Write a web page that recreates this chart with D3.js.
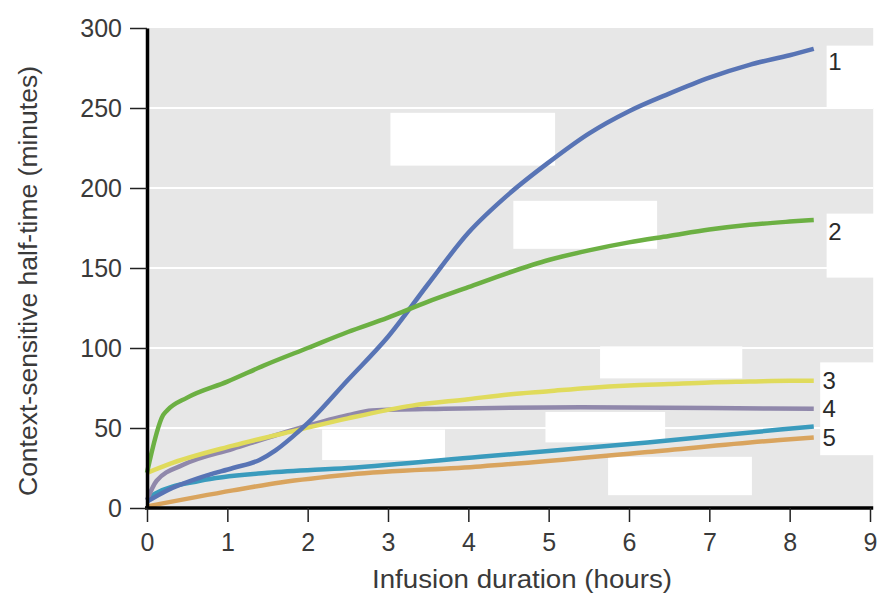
<!DOCTYPE html>
<html>
<head>
<meta charset="utf-8">
<script src="https://cdn.jsdelivr.net/npm/d3@7"></script>
<style>
  html, body { margin: 0; padding: 0; background: #ffffff; }
  svg { display: block; font-family: "Liberation Sans", Arial, Helvetica, sans-serif; }
</style>
</head>
<body>
<svg id="chart" width="890" height="604"></svg>
<script>
// ---- data (hours, minutes) ----
const xTicks = [0, 1, 2, 3, 4, 5, 6, 7, 8, 9];
const yTicks = [0, 50, 100, 150, 200, 250, 300];
const gridValues = [50, 100, 150, 200, 250];

const drug1 = [[0,4],[0.25,11],[0.66,19],[1.07,25],[1.4,30],[1.6,36],[1.8,44],[2,53],[2.5,80],[3,107],[3.5,140],[4,172],[4.5,196],[5,216],[5.5,234],[6,248],[6.5,259],[7,269],[7.5,277],[8,283],[8.3,287]];
const drug2 = [[0,22],[0.2,58],[0.25,61],[0.5,69],[1,79],[1.5,90],[2,100],[2.5,110],[3,119],[3.5,129],[4,138],[4.5,147],[5,155],[5.5,161],[6,166],[6.5,170],[7,174],[7.5,177],[8,179],[8.3,180]];
const drug3 = [[0,22],[0.25,27],[1.07,39],[1.9,49],[2.5,56],[3.3,64],[4,68],[4.5,71],[5,73],[5.5,75],[6,76.5],[6.5,77.5],[7,78.5],[7.5,79],[8,79.5],[8.3,79.5]];
const drug4 = [[0,5],[0.12,17],[0.45,27],[1.07,37],[1.9,50],[2.5,58],[2.8,61],[3.7,62],[5.4,63],[7,62.5],[8.3,62]];
const drug5a = [[0,5],[0.1,9],[0.66,17],[1.5,22],[2.5,25],[4.15,32],[6.23,41],[7.88,49],[8.3,51]];
const drug5b = [[0,1],[1.07,11],[1.66,16],[2.53,21],[4.15,26],[6.23,35],[7.88,42.5],[8.3,44]];

const seriesList = [drug1, drug2, drug3, drug4, drug5a, drug5b];
const seriesColors = ["#5874b5", "#6cb043", "#e0db5c", "#9088ab", "#3a9bbd", "#d9a45e"];
const seriesOrder = [5, 4, 3, 2, 0, 1];

const labelTexts = ["1", "2", "3", "4", "5"];
const labelHours = [8.48, 8.48, 8.41, 8.41, 8.41];
const labelMinutes = [279, 173, 80, 62, 44];

// white cover boxes in data units: [x0, x1, y0, y1]
const coverBoxes = [
  [3.03, 5.08, 214, 247], [4.56, 6.35, 162, 192], [5.64, 7.41, 81, 101],
  [4.96, 6.45, 41, 60], [5.74, 7.53, 8, 32], [2.18, 3.71, 30, 49],
  [8.46, 9.2, 250, 289], [8.46, 9.2, 144, 184], [8.38, 9.2, 33, 91]
];

// ---- layout ----
const svg = d3.select("#chart");
const x = d3.scaleLinear().domain([0, 9]).range([147, 870]);
const y = d3.scaleLinear().domain([0, 300]).range([508, 28]);
const textColor = "#3a3a3a";

// plot background
svg.append("rect")
  .attr("x", x(0)).attr("y", y(300))
  .attr("width", x(9.04) - x(0)).attr("height", y(0) - y(300))
  .attr("fill", "#e7e7e7");

// gridlines
svg.append("g").selectAll("line").data(gridValues).join("line")
  .attr("x1", x(0)).attr("x2", x(9.04))
  .attr("y1", d => y(d)).attr("y2", d => y(d))
  .attr("stroke", "#ffffff").attr("stroke-width", 2);

// cover boxes
svg.append("g").selectAll("rect").data(coverBoxes).join("rect")
  .attr("x", d => x(d[0])).attr("y", d => y(d[3]))
  .attr("width", d => x(d[1]) - x(d[0])).attr("height", d => y(d[2]) - y(d[3]))
  .attr("fill", "#ffffff");

// lines
const lineGen = d3.line().x(d => x(d[0])).y(d => y(d[1])).curve(d3.curveMonotoneX);
svg.append("g").selectAll("path").data(seriesOrder).join("path")
  .attr("d", i => lineGen(seriesList[i]))
  .attr("fill", "none")
  .attr("stroke", i => seriesColors[i])
  .attr("stroke-width", 4.5)
  .attr("stroke-linecap", "butt")
  .attr("stroke-linejoin", "round");

// axes
const xAxis = d3.axisBottom(x).tickValues(xTicks).tickFormat(d3.format("d"))
  .tickSize(14).tickSizeOuter(0).tickPadding(11);
const gx = svg.append("g").attr("transform", `translate(0,${y(0)})`).call(xAxis);
gx.select(".domain").attr("stroke", "#000").attr("stroke-width", 3.5).attr("d", `M${x(0) - 2},0H${x(9.04)}`);
gx.selectAll(".tick line").attr("stroke", "#222").attr("stroke-width", 1.5);
gx.selectAll(".tick text").attr("fill", textColor).attr("font-size", 25)
  .attr("font-family", "Liberation Sans, Arial, sans-serif");

const yAxis = d3.axisLeft(y).tickValues(yTicks).tickFormat(d3.format("d"))
  .tickSize(17).tickSizeOuter(0).tickPadding(8);
const gy = svg.append("g").attr("transform", `translate(${x(0)},0)`).call(yAxis);
gy.select(".domain").attr("stroke", "#000").attr("stroke-width", 3.5);
gy.selectAll(".tick line").attr("stroke", "#222").attr("stroke-width", 1.5);
gy.selectAll(".tick text").attr("fill", textColor).attr("font-size", 25)
  .attr("font-family", "Liberation Sans, Arial, sans-serif");

// axis titles
svg.append("text")
  .attr("x", 522).attr("y", 588)
  .attr("text-anchor", "middle")
  .attr("font-size", 25).attr("fill", textColor)
  .attr("textLength", 300).attr("lengthAdjust", "spacingAndGlyphs")
  .text("Infusion duration (hours)");

svg.append("text")
  .attr("transform", "translate(37,281) rotate(-90)")
  .attr("text-anchor", "middle")
  .attr("font-size", 25).attr("fill", textColor)
  .attr("textLength", 430).attr("lengthAdjust", "spacingAndGlyphs")
  .text("Context-sensitive half-time (minutes)");

// series labels
svg.append("g").selectAll("text").data(labelTexts).join("text")
  .attr("x", (d, i) => x(labelHours[i]))
  .attr("y", (d, i) => y(labelMinutes[i]))
  .attr("dy", "0.36em")
  .attr("font-size", 24).attr("fill", "#2a2a2a")
  .text(d => d);
</script>
</body>
</html>
